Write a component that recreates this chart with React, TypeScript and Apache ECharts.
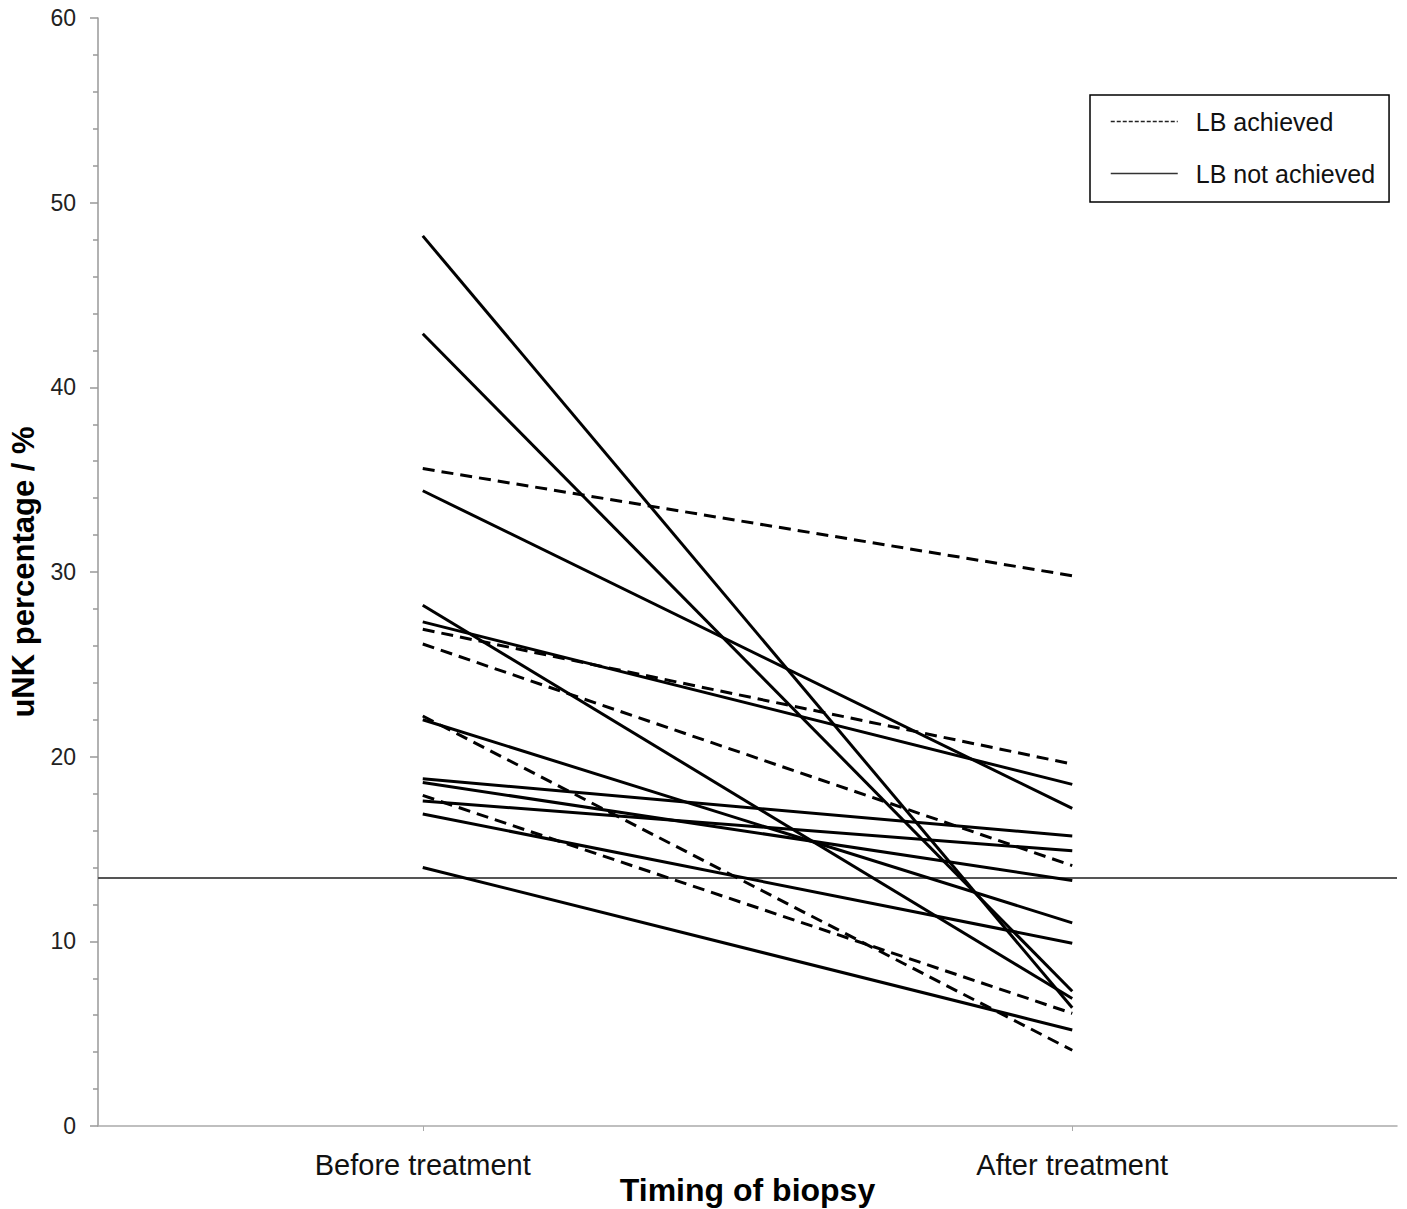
import React, { useEffect, useRef } from "react";
import * as echarts from "echarts";

const categories = ["Before treatment", "After treatment"];
const yTicks = [0, 10, 20, 30, 40, 50, 60];

// LB not achieved (solid lines): [before, after]
const notAchieved: number[][] = [
  [48.2, 6.4],
  [42.9, 7.3],
  [34.4, 17.2],
  [28.2, 6.9],
  [27.3, 18.5],
  [22.0, 11.0],
  [18.8, 15.7],
  [18.6, 13.3],
  [17.6, 14.9],
  [16.9, 9.9],
  [14.0, 5.2],
];

// LB achieved (dashed lines): [before, after]
const achieved: number[][] = [
  [35.6, 29.8],
  [26.9, 19.6],
  [26.1, 14.1],
  [22.2, 4.1],
  [17.9, 6.1],
];

const referenceLevel = 13.44;

const FONT = "'Liberation Sans', Arial, Helvetica, sans-serif";

export default function App() {
  const ref = useRef<HTMLDivElement>(null);

  useEffect(() => {
    if (!ref.current) return;
    const chart = echarts.init(ref.current, undefined, { renderer: "svg" });

    const series: any[] = [];
    notAchieved.forEach((d, i) => {
      series.push({
        name: "LB not achieved",
        type: "line",
        data: d,
        symbol: "none",
        color: "#000",
        lineStyle: { color: "#000", width: 3, type: "solid" },
        z: 3,
        ...(i === 0
          ? {
              markLine: {
                silent: true,
                symbol: "none",
                label: { show: false },
                lineStyle: { color: "#555", width: 2, type: "solid" },
                data: [{ yAxis: referenceLevel }],
                z: 2,
              },
            }
          : {}),
      });
    });
    achieved.forEach((d) => {
      series.push({
        name: "LB achieved",
        type: "line",
        data: d,
        symbol: "none",
        color: "#000",
        lineStyle: { color: "#000", width: 3, type: [12, 7] },
        z: 3,
      });
    });

    chart.setOption({
      animation: false,
      backgroundColor: "#fff",
      textStyle: { fontFamily: FONT },
      grid: {
        left: 98,
        right: 10,
        top: 18,
        bottom: 83,
        containLabel: false,
        outerBoundsMode: "none",
      },
      legend: {
        left: 1090,
        top: 95,
        orient: "vertical",
        backgroundColor: "#fff",
        borderColor: "#000",
        borderWidth: 1.5,
        borderRadius: 0,
        padding: [14, 14, 16, 20],
        itemWidth: 67,
        itemHeight: 20,
        itemGap: 27,
        selectedMode: false,
        itemStyle: { opacity: 0 },
        lineStyle: { width: 1.5, color: "#222" },
        textStyle: {
          fontFamily: FONT,
          fontSize: 25,
          color: "#111",
          lineHeight: 25,
          padding: [0, 0, 0, 13],
        },
        data: [
          {
            name: "LB achieved",
            itemStyle: { opacity: 0 },
            lineStyle: { type: [4, 2], width: 1.5, color: "#222" },
          },
          {
            name: "LB not achieved",
            itemStyle: { opacity: 0 },
            lineStyle: { type: "solid", width: 1.5, color: "#333" },
          },
        ],
      },
      xAxis: {
        type: "category",
        data: categories,
        boundaryGap: true,
        name: "Timing of biopsy",
        nameLocation: "middle",
        nameGap: 48,
        nameMoveOverlap: false,
        nameTextStyle: { fontFamily: FONT, fontSize: 32, fontWeight: "bold", color: "#000" },
        axisLine: { show: true, lineStyle: { color: "#aaa", width: 1.5 } },
        axisTick: { show: true, alignWithLabel: true, length: 5, lineStyle: { color: "#aaa" } },
        axisLabel: { fontFamily: FONT, fontSize: 29, color: "#111", margin: 24 },
        splitLine: { show: false },
      },
      yAxis: {
        type: "value",
        min: yTicks[0],
        max: yTicks[yTicks.length - 1],
        interval: 10,
        name: "uNK percentage / %",
        nameLocation: "middle",
        nameGap: 59,
        nameMoveOverlap: false,
        nameRotate: 90,
        nameTextStyle: { fontFamily: FONT, fontSize: 31, fontWeight: "bold", color: "#000" },
        axisLine: { show: true, lineStyle: { color: "#999", width: 1.5 } },
        axisTick: { show: true, inside: false, length: 8, lineStyle: { color: "#999", width: 1.5 } },
        minorTick: { show: true, splitNumber: 5, length: 5, lineStyle: { color: "#999", width: 1.5 } },
        axisLabel: { fontFamily: FONT, fontSize: 23, color: "#222", margin: 22 },
        splitLine: { show: false },
      },
      series,
    });

    return () => chart.dispose();
  }, []);

  return (
    <div
      ref={ref}
      style={{ position: "absolute", left: 0, top: 0, width: 1407, height: 1209 }}
    />
  );
}
